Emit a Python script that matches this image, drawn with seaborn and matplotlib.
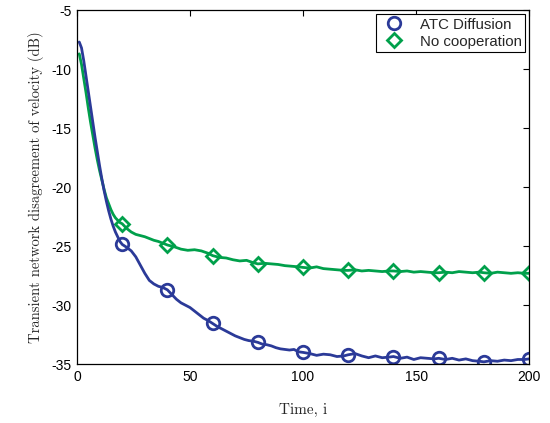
import numpy as np
import pandas as pd
import matplotlib
matplotlib.use("Agg")
import matplotlib.pyplot as plt
from matplotlib.lines import Line2D
import seaborn as sns

# ---- data ----
atc_i = [1, 2, 3, 4, 5, 6, 7, 8, 9, 10, 11, 12, 13, 14, 15, 16, 17, 18, 19, 20,
         22, 24, 26, 28, 30, 32, 34, 36, 38, 40, 42, 44, 46, 48, 50, 52, 54, 56, 58, 60,
         62, 64, 66, 68, 70, 72, 74, 76, 78, 80, 82, 84, 86, 88, 90, 92, 94, 96, 98, 100,
         103, 106, 109, 112, 115, 118, 120, 123, 126, 129, 132, 135, 138, 140,
         143, 146, 149, 152, 155, 158, 160, 163, 166, 169, 172, 175, 178, 180,
         183, 186, 189, 192, 195, 198, 200]
atc_db = [-7.7, -8.2, -9.3, -10.6, -11.9, -13.2, -14.5, -15.8, -17.0, -18.2, -19.3, -20.3, -21.2, -22.0, -22.7, -23.3, -23.8, -24.2, -24.6, -24.85,
          -25.1, -25.4, -25.9, -26.6, -27.3, -27.9, -28.2, -28.4, -28.5, -28.7, -29.1, -29.5, -29.8, -30.0, -30.2, -30.5, -30.8, -31.1, -31.3, -31.55,
          -31.8, -32.0, -32.2, -32.4, -32.6, -32.75, -32.9, -33.0, -33.05, -33.15, -33.3, -33.35, -33.45, -33.6, -33.7, -33.75, -33.8, -33.75, -33.95, -34.0,
          -34.1, -34.25, -34.15, -34.2, -34.35, -34.3, -34.2, -34.1, -34.3, -34.45, -34.3, -34.45, -34.4, -34.35,
          -34.5, -34.4, -34.6, -34.45, -34.5, -34.55, -34.5, -34.6, -34.5, -34.65, -34.55, -34.7, -34.75, -34.8,
          -34.7, -34.75, -34.65, -34.7, -34.6, -34.6, -34.55]

noc_i = [1, 2, 3, 4, 5, 6, 7, 8, 9, 10, 11, 12, 13, 14, 15, 16, 17, 18, 19, 20,
         22, 24, 26, 28, 30, 32, 34, 36, 38, 40, 43, 46, 49, 52, 55, 58, 60,
         63, 66, 69, 72, 75, 78, 80, 83, 86, 89, 92, 95, 98, 100,
         103, 106, 109, 112, 115, 118, 120, 123, 126, 129, 132, 135, 138, 140,
         143, 146, 149, 152, 155, 158, 160, 163, 166, 169, 172, 175, 178, 180,
         183, 186, 189, 192, 195, 198, 200]
noc_db = [-8.7, -9.6, -10.8, -12.0, -13.3, -14.5, -15.6, -16.7, -17.7, -18.6, -19.4, -20.2, -20.9, -21.4, -21.9, -22.3, -22.6, -22.8, -23.0, -23.1,
          -23.5, -23.8, -24.0, -24.1, -24.2, -24.35, -24.5, -24.6, -24.75, -24.9, -25.05, -25.25, -25.35, -25.3, -25.4, -25.6, -25.8,
          -25.95, -26.0, -26.15, -26.25, -26.2, -26.4, -26.5, -26.45, -26.5, -26.55, -26.65, -26.7, -26.75, -26.8,
          -26.85, -26.75, -26.9, -26.95, -27.0, -27.05, -27.05, -27.0, -27.1, -27.05, -27.1, -27.15, -27.1, -27.1,
          -27.15, -27.1, -27.2, -27.15, -27.2, -27.25, -27.25, -27.2, -27.25, -27.15, -27.2, -27.25, -27.2, -27.25,
          -27.3, -27.2, -27.25, -27.3, -27.25, -27.3, -27.3]

series_names = ["ATC Diffusion", "No cooperation"]
x_ticks = [0, 50, 100, 150, 200]
y_ticks = [-35, -30, -25, -20, -15, -10, -5]

blue = "#2b3a98"
green = "#00a04b"

sns.set_theme(style="white")
plt.rcParams["font.family"] = ["Liberation Sans", "DejaVu Sans"]

fig = plt.figure(figsize=(5.5, 4.23), dpi=100)
ax = fig.add_axes([0.14, 0.139, 0.822, 0.837])

df_a = pd.DataFrame({"i": atc_i, "db": atc_db})
df_n = pd.DataFrame({"i": noc_i, "db": noc_db})

mk_a = [k for k, v in enumerate(atc_i) if v % 20 == 0]
mk_n = [k for k, v in enumerate(noc_i) if v % 20 == 0]

sns.lineplot(data=df_n, x="i", y="db", ax=ax, color=green, linewidth=2.0,
             marker="D", markevery=mk_n, markersize=7.5, markerfacecolor="none",
             markeredgecolor=green, markeredgewidth=2, errorbar=None)
sns.lineplot(data=df_a, x="i", y="db", ax=ax, color=blue, linewidth=2.0,
             marker="o", markevery=mk_a, markersize=9, markerfacecolor="none",
             markeredgecolor=blue, markeredgewidth=2, errorbar=None)

ax.set_xlim(0, 200)
ax.set_ylim(-35, -5)
ax.set_xticks(x_ticks)
ax.set_yticks(y_ticks)
ax.set_xticklabels([str(t) for t in x_ticks])
ax.set_yticklabels([str(t) for t in y_ticks])
ax.tick_params(direction="in", length=4, width=0.8, top=True, right=True,
               labelsize=10, colors="black", pad=4)

for s in ax.spines.values():
    s.set_visible(True)
    s.set_color("black")
    s.set_linewidth(0.9)

serif = ["cmr10", "DejaVu Serif"]
ax.set_xlabel("Time, i", family=serif, fontsize=11, labelpad=14)
ax.set_ylabel("Transient network disagreement of velocity (dB)", family=serif,
              fontsize=10.5, labelpad=5)

handles = [
    Line2D([], [], linestyle="none", marker="o", markersize=9, markerfacecolor="none",
           markeredgecolor=blue, markeredgewidth=2),
    Line2D([], [], linestyle="none", marker="D", markersize=7.5, markerfacecolor="none",
           markeredgecolor=green, markeredgewidth=2),
]
leg = ax.legend(handles, series_names, loc="upper right", fontsize=10.8, frameon=True,
                fancybox=False, edgecolor="black", framealpha=1,
                borderaxespad=0.25, handletextpad=0.7, borderpad=0.25,
                labelspacing=0.2, handlelength=1.95)
leg.get_frame().set_linewidth(0.8)

fig.savefig("out.png", dpi=100)
